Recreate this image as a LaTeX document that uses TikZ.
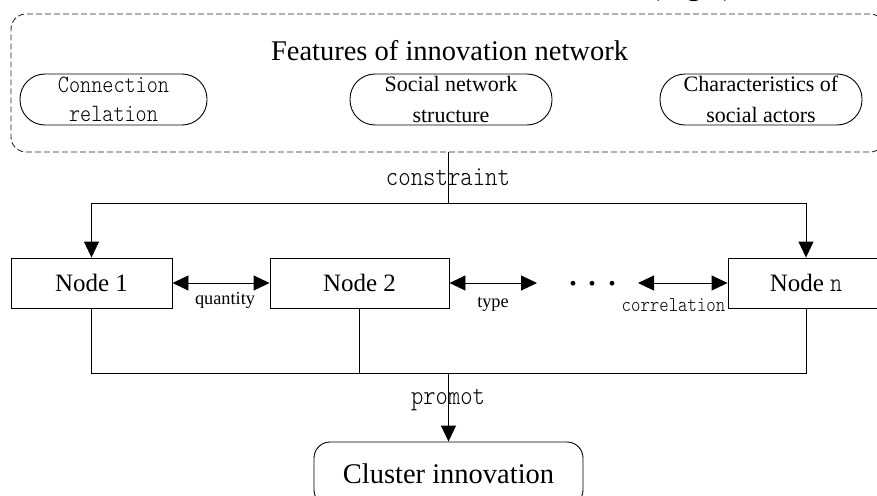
\documentclass[tikz,border=0pt]{standalone}
\usepackage{fontspec}
\setmainfont{Liberation Serif}
\newfontfamily\monoFam{lmmonolt10-regular}[Extension=.otf,FakeStretch=0.85]
\newcommand{\monoF}{\monoFam}
\usetikzlibrary{arrows.meta}
\begin{document}
\begin{tikzpicture}[x=1pt,y=-1pt,
  line width=0.9pt,
  tip/.style={-{Triangle[length=16pt,width=15pt]}},
  dtip/.style={{Triangle[length=16pt,width=15pt]}-{Triangle[length=16pt,width=15pt]}},
  nodebox/.style={draw, rectangle, minimum height=50pt, inner sep=0pt, font=\fontsize{25}{30}\selectfont},
  oval/.style={draw, rectangle, rounded corners=25pt, minimum height=51pt, inner sep=0pt, align=center},
  lbl/.style={inner sep=0pt, anchor=base}
]
\useasboundingbox (0,0) rectangle (877,495);

% clipped text at the top edge
\node[lbl, anchor=base west, font=\fontsize{28.5}{34}\selectfont] (rt) at (650,-4) {(Right)};

% container
\node[draw=black!85, line width=0.9pt, dash pattern=on 6pt off 3pt, rectangle, rounded corners=15pt,
      minimum width=874pt, minimum height=138pt, inner sep=0pt] (feat) at (448,83) {};
\node[lbl, font=\fontsize{28.5}{34}\selectfont] (title) at (449.5,60) {Features of innovation network};

\node[oval, minimum width=187pt, font=\monoF\fontsize{24.9}{29}\selectfont] (o1) at (113.5,99.5) {Connection\\relation};
\node[oval, minimum width=202pt, font=\fontsize{22}{31}\selectfont] (o2) at (451,99.5) {Social network\\structure};
\node[oval, minimum width=202pt, font=\fontsize{22}{31}\selectfont] (o3) at (761,99.5) {Characteristics of\\social actors};

% nodes
\node[nodebox, minimum width=161pt] (n1) at (91.5,283) {Node 1};
\node[nodebox, minimum width=179pt] (n2) at (359.5,283) {Node 2};
\node[nodebox, minimum width=156pt] (nn) at (806,283) {Node {\monoF\fontsize{27}{30}\selectfont n}};

\node[draw, rectangle, rounded corners=16pt, minimum width=269pt, minimum height=64pt, inner sep=0pt,
      font=\fontsize{28.5}{34}\selectfont] (clu) at (448.5,474) {Cluster innovation};

% labels
\node[lbl, font=\monoF\fontsize{27.8}{30}\selectfont] (cons) at (448,185) {constraint};
\node[lbl, font=\monoF\fontsize{27.6}{30}\selectfont] (prom) at (448,404) {promot};
\node[lbl, font=\fontsize{18.3}{22}\selectfont] (qty) at (225,304) {quantity};
\node[lbl, font=\fontsize{18.3}{22}\selectfont] (typ) at (493,307) {type};
\node[lbl, font=\monoF\fontsize{21.1}{24}\selectfont] (corr) at (673.5,311) {correlation};
\node[lbl, font=\fontsize{40}{44}\selectfont] (dots) at (593,285) {.\hspace{9.5pt}.\hspace{9.5pt}.};

% connectors
\coordinate (cj) at (448,203);
\draw (feat.south) -- (cj);
\draw[tip] (cj) -| (n1.north);
\draw[tip] (cj) -| (nn.north);

\coordinate (ta) at (537,283);
\coordinate (tb) at (638,283);
\draw[dtip] (n1.east) -- (n2.west);
\draw[dtip] (n2.east) -- (ta);
\draw[dtip] (tb) -- (nn.west);

\coordinate (bl) at (91.5,373);
\coordinate (br) at (806,373);
\coordinate (bj) at (448.5,373);
\draw (n1.south) -- (bl) -- (br) -- (nn.south);
\draw (n2.south) -- (n2.south |- bl);
\draw[tip] (bj) -- (clu.north);
\end{tikzpicture}
\end{document}
